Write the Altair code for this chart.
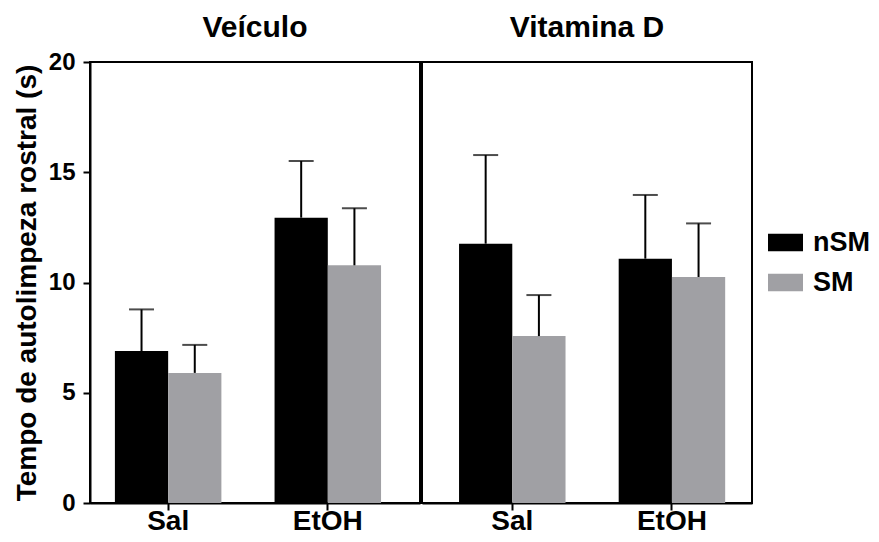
import altair as alt
import pandas as pd

FONT = "Liberation Sans"

panels = ["Veículo", "Veículo", "Veículo", "Veículo",
          "Vitamina D", "Vitamina D", "Vitamina D", "Vitamina D"]
treatments = ["Sal", "Sal", "EtOH", "EtOH", "Sal", "Sal", "EtOH", "EtOH"]
series = ["nSM", "SM", "nSM", "SM", "nSM", "SM", "nSM", "SM"]
means = [6.89, 5.90, 12.94, 10.78, 11.76, 7.57, 11.08, 10.25]
sems = [1.89, 1.27, 2.57, 2.59, 4.02, 1.86, 2.89, 2.43]

treatment_order = ["Sal", "EtOH"]
series_order = ["nSM", "SM"]
series_colors = ["#000000", "#a0a0a4"]
y_ticks = [0, 5, 10, 15, 20]

df = pd.DataFrame({
    "panel": panels,
    "treatment": treatments,
    "series": series,
    "mean": means,
    "sem": sems,
})
df["upper"] = df["mean"] + df["sem"]


def make_panel(name, align, show_y, title_offset):
    d = df[df["panel"] == name]
    x = alt.X(
        "treatment:N",
        sort=treatment_order,
        scale=alt.Scale(paddingInner=0.333, paddingOuter=0.2, align=align),
        axis=alt.Axis(
            title=None, labelAngle=0, labelFont=FONT, labelFontSize=28,
            labelFontWeight="bold", labelColor="black", labelPadding=-3,
            tickSize=7, tickWidth=2, tickColor="black",
            domainColor="black", domainWidth=2, grid=False,
        ),
    )
    xo = alt.XOffset("series:N", sort=series_order,
                     scale=alt.Scale(paddingInner=0, paddingOuter=0))
    if show_y:
        yaxis = alt.Axis(
            values=y_ticks, title="Tempo de autolimpeza rostral (s)",
            titleFont=FONT, titleFontSize=28, titleFontWeight="bold",
            titleColor="black", titlePadding=7,
            labelFont=FONT, labelFontSize=24, labelFontWeight="bold",
            labelColor="black", labelPadding=8,
            tickSize=7, tickWidth=2, tickColor="black",
            domainColor="black", domainWidth=2, grid=False,
        )
    else:
        yaxis = None
    y = alt.Y("mean:Q", scale=alt.Scale(domain=[0, 20], nice=False), axis=yaxis)

    base = alt.Chart(d)
    bars = base.mark_bar(stroke=None).encode(
        x=x, xOffset=xo, y=y,
        color=alt.Color(
            "series:N",
            scale=alt.Scale(domain=series_order, range=series_colors),
            legend=alt.Legend(
                title=None, orient="none", legendX=678, legendY=163,
                symbolType="M-1,-0.5L1,-0.5L1,0.5L-1,0.5Z",
                symbolSize=1225, symbolStrokeWidth=0, symbolOpacity=1,
                labelFont=FONT, labelFontSize=27, labelFontWeight="bold",
                labelColor="black", labelOffset=10, rowPadding=9,
            ),
        ),
    )
    rules = base.mark_rule(color="black", strokeWidth=2).encode(
        x=x, xOffset=xo, y="mean:Q", y2="upper:Q",
    )
    caps = base.mark_tick(color="black", thickness=2, size=25).encode(
        x=x, xOffset=xo, y="upper:Q",
    )
    return alt.layer(bars, rules, caps).properties(
        width=330, height=441,
        title=alt.Title(name, font=FONT, fontSize=30, fontWeight="bold",
                        color="black", anchor="middle", frame="group",
                        offset=title_offset),
    )


left = make_panel("Veículo", 0.39, True, 7)
right = make_panel("Vitamina D", 0.58, False, 19)

chart = alt.hconcat(left, right, spacing=0).resolve_scale(
    x="independent"
).properties(
    padding={"left": 4, "top": 4, "right": 0, "bottom": 0},
    background="white",
).configure_view(
    stroke="black", strokeWidth=2
)

chart.save("out.html", embed_options={"renderer": "svg", "actions": False})
